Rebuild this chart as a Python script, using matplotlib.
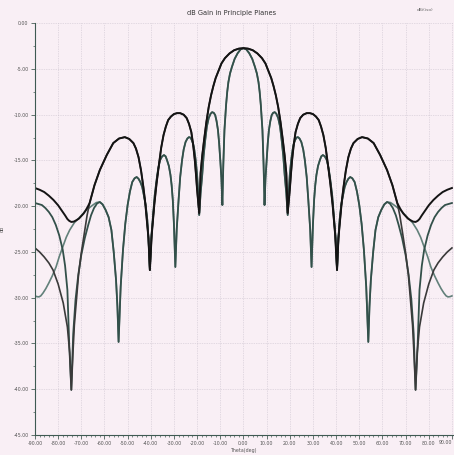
import matplotlib
matplotlib.use('Agg')
import matplotlib.pyplot as plt
from matplotlib.ticker import MultipleLocator, FuncFormatter
from matplotlib.transforms import blended_transform_factory

# right-half readings (deg, dB); the pattern is symmetric about 0 deg
# wide main lobe pattern, shared part of the two dark curves
th_wide = [0, 2, 4, 6, 8, 9.5, 11, 12, 13, 14, 15, 16, 17, 17.8, 18.5, 19.1,
           19.6, 20, 20.5, 21, 21.7, 22.5, 23.5, 24.5, 25.8, 27.3, 28.7, 30,
           31.3, 32.5, 33.5, 34.5, 35.5, 36.5, 37.5, 38.5, 39.6, 40.4,
           41, 41.7, 42.4, 43.2, 44.2, 45.3, 46.4, 47.5, 49.3, 51.2, 53.7,
           56.2, 59, 62, 64.3, 66.4]
db_wide = [-2.73, -2.78, -2.95, -3.30, -3.82, -4.40, -5.35, -6.00, -6.88, -7.90,
           -9.17, -10.80, -12.77, -14.50, -16.38, -20.74,
           -19.30, -18.23, -16.50, -14.96, -13.30, -11.90, -11.00, -10.37,
           -10.00, -9.83, -9.83, -9.93, -10.20, -10.59, -11.30, -12.23, -13.60,
           -15.50, -17.50, -19.87, -23.14, -26.97,
           -23.50, -21.51, -19.60, -17.90, -16.10, -14.63, -13.70, -13.10,
           -12.65, -12.45, -12.60, -13.10, -14.40, -16.05, -17.70, -19.65]

# tails towards endfire
th_a_tail = [67.2, 68, 69, 70, 71, 72, 73.2, 74.3, 75.2, 76, 77, 78, 80, 82,
             84, 86, 88, 90]
db_a_tail = [-20.05, -20.41, -20.80, -21.07, -21.35, -21.51, -21.68, -21.72,
             -21.60, -21.40, -21.00, -20.63, -19.90, -19.32, -18.85, -18.45,
             -18.20, -18.01]
th_b_tail = [67.5, 68.5, 70, 71.2, 72.2, 73, 73.6, 74.3, 75, 76, 77.8, 80,
             82.2, 84, 86, 88, 90]
db_b_tail = [-21.00, -22.60, -25.11, -27.50, -30.57, -33.00, -36.03, -40.07,
             -36.03, -33.20, -30.57, -28.50, -26.97, -26.20, -25.55, -25.00,
             -24.56]

# narrow main lobe pattern, shared part of the two green-grey curves
th_narrow = [0, 1.2, 2.5, 3.8, 5, 5.8, 6.5, 7, 7.5, 8.2, 8.7, 9.1,
             9.5, 10, 10.5, 11, 11.6, 12.2, 12.8, 13.5, 14.2, 15, 15.8, 16.5,
             17.2, 17.8, 18.5, 19.1,
             19.6, 20, 20.6, 21.2, 21.7, 22.3, 22.9, 23.5, 24.2, 25, 25.8,
             26.5, 27.3, 28, 28.8, 29.4,
             30, 30.5, 31, 31.5, 32.2, 33, 33.6, 34.3, 35.1, 36, 36.8, 37.5,
             38.3, 39, 39.8, 40.4,
             41, 41.5, 42.2, 43, 43.7, 44.5, 45.3, 46.1, 47, 48, 49, 50, 51,
             52, 53, 53.9,
             54.4, 55, 56, 57, 58.2, 59.5, 60.8, 62]
db_narrow = [-2.73, -2.85, -3.28, -3.90, -4.80, -5.50, -6.44, -7.50, -8.95,
             -11.68, -15.50, -19.87,
             -17.00, -14.96, -13.10, -11.68, -10.70, -10.04, -9.80, -9.72,
             -9.90, -10.37, -11.30, -12.77, -14.50, -16.59, -18.60, -20.96,
             -18.30, -16.59, -15.00, -13.86, -13.20, -12.77, -12.50, -12.45,
             -12.60, -12.99, -13.80, -14.96, -16.80, -19.32, -22.50, -26.64,
             -22.00, -19.32, -17.70, -16.59, -15.60, -14.96, -14.55, -14.41,
             -14.55, -14.96, -15.90, -17.14, -18.80, -20.96, -23.50, -26.97,
             -23.50, -21.51, -19.90, -18.78, -17.90, -17.36, -17.00, -16.81,
             -16.95, -17.36, -18.40, -19.87, -21.90, -24.78, -28.80, -34.83,
             -31.00, -28.06, -25.00, -22.60, -21.20, -20.41, -19.80, -19.54]
th_c_tail = [63.2, 64.5, 65.8, 67, 68.5, 70, 71.3, 72.5, 73.5, 74.3, 75.2, 76,
             77, 78, 79.5, 81, 82.5, 84, 85.5, 87, 90]
db_c_tail = [-19.70, -20.20, -21.00, -22.05, -23.50, -25.33, -27.50, -30.24,
             -34.00, -40.07, -35.15, -29.15, -26.50, -24.78, -23.20, -22.05,
             -21.20, -20.63, -20.20, -19.87, -19.65]
th_d_tail = [63.5, 65, 67.8, 71, 73, 75, 76.5, 78, 79.5, 80.9, 82.5, 84, 85.3,
             86.5, 87.5, 88.3, 89.2, 90]
db_d_tail = [-19.60, -19.87, -20.41, -21.29, -21.80, -22.60, -23.40, -24.45,
             -25.50, -26.64, -27.60, -28.38, -29.00, -29.48, -29.80, -29.91,
             -29.88, -29.80]


def full(th_core, db_core, th_tail, db_tail):
    th = th_core + th_tail
    db = db_core + db_tail
    left_t = [-t for t in reversed(th[1:])]
    left_d = list(reversed(db[1:]))
    return left_t + th, left_d + db


bg = '#f9eff5'
fig = plt.figure(figsize=(4.54, 4.55), dpi=100)
fig.patch.set_facecolor(bg)
ax = fig.add_axes([0.077, 0.044, 0.921, 0.905])
ax.set_facecolor(bg)

curves = [
    (th_narrow, db_narrow, th_d_tail, db_d_tail, '#62807a', 1.2),
    (th_narrow, db_narrow, th_c_tail, db_c_tail, '#33504a', 1.3),
    (th_wide, db_wide, th_b_tail, db_b_tail, '#3a3a3a', 1.2),
    (th_wide, db_wide, th_a_tail, db_a_tail, '#141414', 1.4),
]
for tc, dc, tt, dt, col, lw in curves:
    x, y = full(tc, dc, tt, dt)
    ax.plot(x, y, color=col, lw=lw, solid_joinstyle='round')

ax.set_xlim(-90, 90.5)
ax.set_ylim(-45, 0)
ax.xaxis.set_major_locator(MultipleLocator(10))
ax.xaxis.set_minor_locator(MultipleLocator(2))
ax.yaxis.set_major_locator(MultipleLocator(5))
ax.yaxis.set_minor_locator(MultipleLocator(2.5))
# the 90 label sits at the picture's edge, it is drawn separately below
ax.xaxis.set_major_formatter(FuncFormatter(lambda v, p: '' if v > 89 else '%.2f' % v))
ax.yaxis.set_major_formatter(FuncFormatter(lambda v, p: '%.2f' % v))
ax.tick_params(axis='both', which='major', labelsize=3.4, length=3,
               width=0.6, colors='#4a5f58', labelcolor='#555555', pad=1.5)
ax.tick_params(axis='both', which='minor', length=1.5, width=0.5, colors='#4a5f58')
ax.grid(True, which='major', color='#cbc2ce', lw=0.5, ls=(0, (1, 1.5)))

trans = blended_transform_factory(ax.transData, ax.transAxes)
ax.text(90.3, -0.012, '90.00', transform=trans, ha='right', va='top',
        fontsize=3.4, color='#555555')

for s in ['top', 'right']:
    ax.spines[s].set_visible(False)
ax.spines['left'].set_color('#3f5a52')
ax.spines['bottom'].set_color('#3f5a52')
ax.spines['left'].set_linewidth(0.8)
ax.spines['bottom'].set_linewidth(0.8)

ax.set_xlabel('Theta(deg)', fontsize=3.4, color='#555555', labelpad=1)
ax.set_ylabel('dB', fontsize=3.4, color='#555555', labelpad=6)
fig.text(232 / 454, 1 - 13 / 455, 'dB Gain in Principle Planes', ha='center',
         va='center', fontsize=4.8, color='#333333')
fig.text(425 / 454, 1 - 10 / 455, 'dBi(iso)', ha='center', va='center',
         fontsize=3.2, color='#666666')

plt.savefig('out.png', dpi=100, facecolor=bg)
